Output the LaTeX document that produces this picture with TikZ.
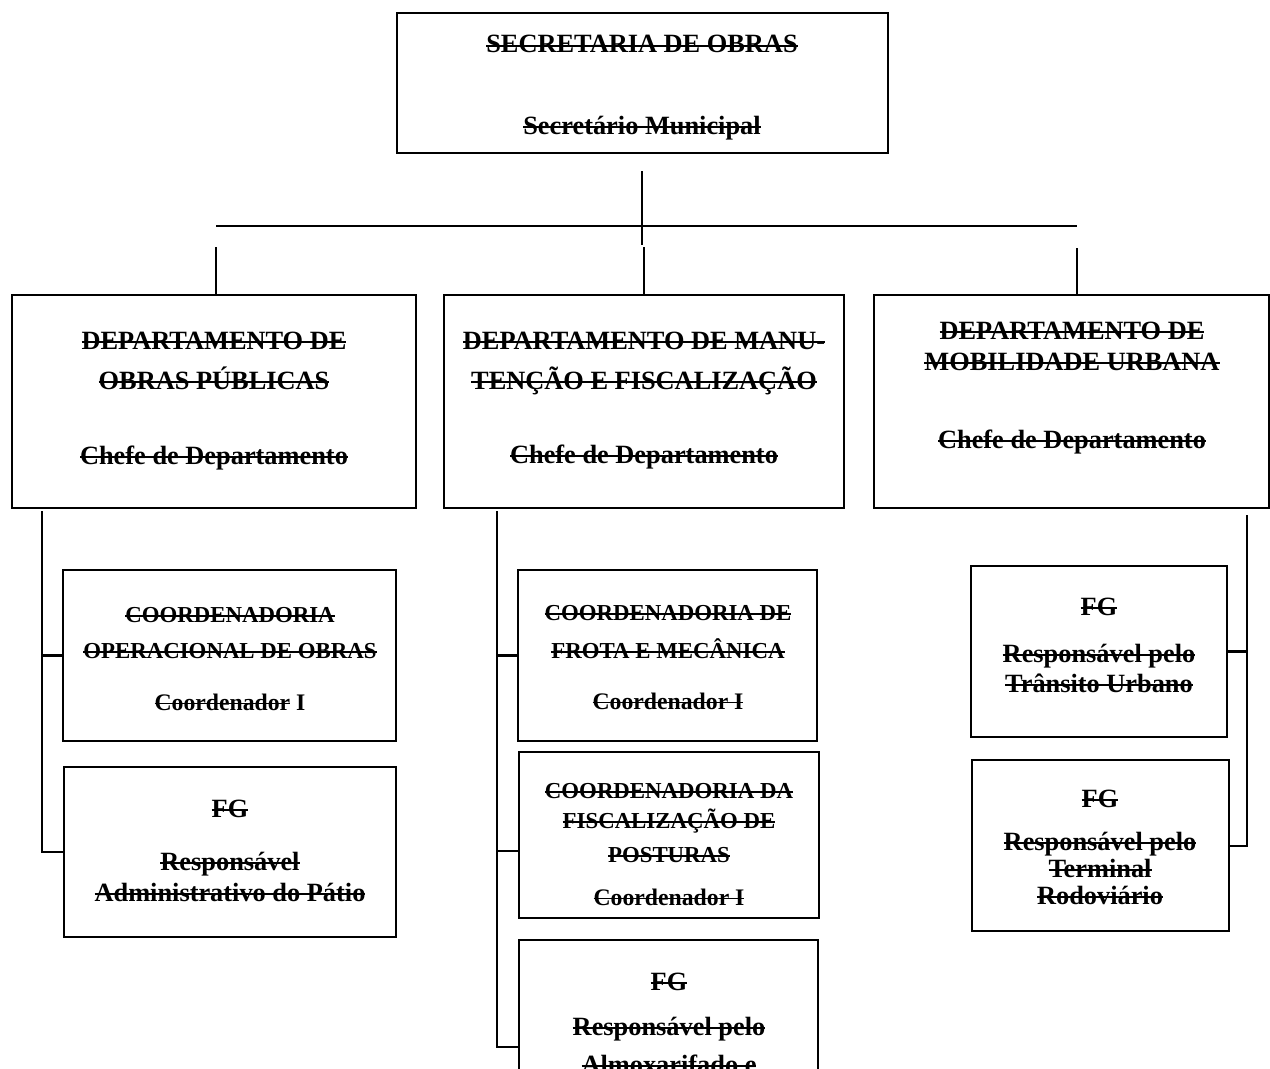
\documentclass[tikz,border=0pt]{standalone}
\usepackage{fontspec}
\setmainfont{Liberation Serif}
\usetikzlibrary{fit}

% texto riscado
\newsavebox{\riscabox}
\newcommand{\risca}[1]{\sbox{\riscabox}{#1}\rlap{\rule[0.24em]{\wd\riscabox}{0.8pt}}\usebox{\riscabox}}

\tikzset{
	caixa/.style={draw, line width=1.15pt, inner sep=0pt},
	liga/.style={line width=1.15pt},
	grande/.style={font=\bfseries\fontsize{15}{15}\selectfont, anchor=base, inner sep=0pt},
	media/.style={font=\bfseries\fontsize{13}{13}\selectfont, anchor=base, inner sep=0pt},
	cargo/.style={font=\bfseries\fontsize{13.5}{13.5}\selectfont, anchor=base, inner sep=0pt}
}

\begin{document}
\begin{tikzpicture}[x=0.02cm, y=-0.02cm]
		\useasboundingbox (0,0) rectangle (1270,1068);

		% caixas
		\node[caixa, fit={(397,13) (888,153)}] (sec) {};
		\node[caixa, fit={(12,295) (416,508)}] (dop) {};
		\node[caixa, fit={(444,295) (844,508)}] (dmf) {};
		\node[caixa, fit={(874,295) (1269,508)}] (dmu) {};
		\node[caixa, fit={(63,570) (396,741)}] (cop) {};
		\node[caixa, fit={(64,767) (396,937)}] (fgp) {};
		\node[caixa, fit={(518,570) (817,741)}] (cfm) {};
		\node[caixa, fit={(519,752) (819,918)}] (cfp) {};
		\node[caixa, fit={(519,940) (818,1154)}] (fga) {};
		\node[caixa, fit={(971,566) (1227,737)}] (fgt) {};
		\node[caixa, fit={(972,760) (1229,931)}] (fgr) {};

		% textos
		\node[grande] (sec1) at (642,53) {\risca{SECRETARIA DE OBRAS}};
		\node[grande] (sec2) at (642,134) {\risca{Secretário Municipal}};

		\node[grande] (dop1) at (214,349) {\risca{DEPARTAMENTO DE}};
		\node[grande] (dop2) at (214,389) {\risca{OBRAS PÚBLICAS}};
		\node[grande] (dop3) at (214,464) {\risca{Chefe de Departamento}};

		\node[grande] (dmf1) at (644,349) {\risca{DEPARTAMENTO DE MANU-}};
		\node[grande] (dmf2) at (644,389) {\risca{TENÇÃO E FISCALIZAÇÃO}};
		\node[grande] (dmf3) at (644,463) {\risca{Chefe de Departamento}};

		\node[grande] (dmu1) at (1072,339) {\risca{DEPARTAMENTO DE}};
		\node[grande] (dmu2) at (1072,370) {\risca{MOBILIDADE URBANA}};
		\node[grande] (dmu3) at (1072,448) {\risca{Chefe de Departamento}};

		\node[media] (cop1) at (230,622) {\risca{COORDENADORIA}};
		\node[media] (cop2) at (230,658) {\risca{OPERACIONAL DE OBRAS}};
		\node[cargo] (cop3) at (230,710) {\risca{Coordenador} I};

		\node[grande] (fgp1) at (230,817) {\risca{FG}};
		\node[grande] (fgp2) at (230,870) {\risca{Responsável}};
		\node[grande] (fgp3) at (230,901) {\risca{Administrativo do Pátio}};

		\node[media] (cfm1) at (668,620) {\risca{COORDENADORIA DE}};
		\node[media] (cfm2) at (668,658) {\risca{FROTA E MECÂNICA}};
		\node[cargo] (cfm3) at (668,709) {\risca{Coordenador I}};

		\node[media] (cfp1) at (669,798) {\risca{COORDENADORIA DA}};
		\node[media] (cfp2) at (669,828) {\risca{FISCALIZAÇÃO DE}};
		\node[media] (cfp3) at (669,862) {\risca{POSTURAS}};
		\node[cargo] (cfp4) at (669,905) {\risca{Coordenador I}};

		\node[grande] (fga1) at (669,990) {\risca{FG}};
		\node[grande] (fga2) at (669,1035) {\risca{Responsável pelo}};
		\node[grande] (fga3) at (669,1073) {\risca{Almoxarifado e}};

		\node[grande] (fgt1) at (1099,615) {\risca{FG}};
		\node[grande] (fgt2) at (1099,662) {\risca{Responsável pelo}};
		\node[grande] (fgt3) at (1099,692) {\risca{Trânsito Urbano}};

		\node[grande] (fgr1) at (1100,807) {\risca{FG}};
		\node[grande] (fgr2) at (1100,850) {\risca{Responsável pelo}};
		\node[grande] (fgr3) at (1100,877) {\risca{Terminal}};
		\node[grande] (fgr4) at (1100,904) {\risca{Rodoviário}};

		% ligacoes
		\coordinate (hastea) at (642,171);
		\coordinate (hasteb) at (642,245);
		\draw[liga] (hastea) -- (hasteb);
		\coordinate (barraE) at (216,226);
		\coordinate (barraD) at (1077,226);
		\draw[liga] (barraE) -- (barraD);
		\coordinate (descE) at (216,247);
		\coordinate (descM) at (644,247);
		\coordinate (descD) at (1077,248);
		\draw[liga] (descE) -- (descE |- dop.north);
		\draw[liga] (descM) -- (descM |- dmf.north);
		\draw[liga] (descD) -- (descD |- dmu.north);

		\coordinate (ramoE) at (42,511);
		\draw[liga] (ramoE) |- (cop.west);
		\draw[liga] (ramoE) |- (fgp.west);

		\coordinate (ramoM) at (497,511);
		\path (cfp.west) ++(0,16) coordinate (entM);
		\draw[liga] (ramoM) |- (cfm.west);
		\draw[liga] (ramoM) |- (entM);
		\draw[liga] (ramoM) |- (fga.west);

		\coordinate (ramoD) at (1247,515);
		\draw[liga] (ramoD) |- (fgt.east);
		\draw[liga] (ramoD) |- (fgr.east);
\end{tikzpicture}
\end{document}
